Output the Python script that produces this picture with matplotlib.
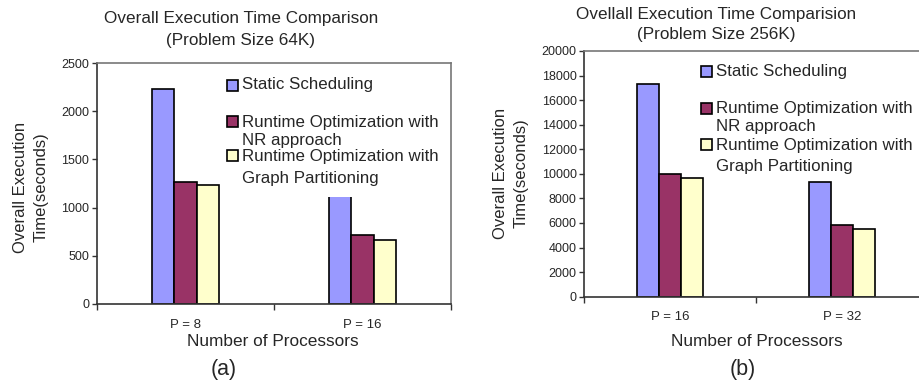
import matplotlib
matplotlib.use("Agg")
import matplotlib.pyplot as plt
from matplotlib.patches import Rectangle
import numpy as np

plt.rcParams['font.family'] = ['Liberation Sans', 'DejaVu Sans']

W, H = 919, 387

series = ["Static Scheduling", "Runtime Optimization with\nNR approach",
          "Runtime Optimization with\nGraph Partitioning"]
colors = ["#9999FF", "#993366", "#FFFFCC"]

cats_a = ["P = 8", "P = 16"]
static_a = [2227, 1250]
nr_a = [1269, 712]
gp_a = [1231, 667]

cats_b = ["P = 16", "P = 32"]
static_b = [17300, 9360]
nr_b = [9990, 5840]
gp_b = [9640, 5540]

yticks_a = [0, 500, 1000, 1500, 2000, 2500]
yticks_b = list(range(0, 20001, 2000))

TXT = "#262626"

fig = plt.figure(figsize=(W / 100, H / 100), dpi=100)


def fx(px):
    return px / W


def fy(py):
    return 1 - py / H


def make_axes(rect, cats, data, yticks, labelpad):
    ax = fig.add_axes(rect)
    x = np.arange(len(cats))
    bw = 0.127
    for i, vals in enumerate(data):
        ax.bar(x + (i - 1) * bw, vals, bw, color=colors[i], edgecolor="black",
               linewidth=1.2, zorder=2)
    ax.set_xlim(-0.5, len(cats) - 0.5)
    ax.set_ylim(0, yticks[-1])
    ax.set_yticks(yticks)
    ax.set_yticklabels([str(t) for t in yticks], fontsize=9, color=TXT)
    ax.set_xticks([-0.5, 0.5, 1.5])
    ax.set_xticks(x, minor=True)
    ax.set_xticklabels([])
    ax.set_xticklabels(cats, minor=True, fontsize=9.5, color=TXT)
    ax.tick_params(axis="x", which="major", length=4, width=1, color="#333333")
    ax.tick_params(axis="x", which="minor", length=0, pad=labelpad)
    ax.tick_params(axis="y", length=3.8, width=1, color="#333333", pad=1.5)
    for s in ["left", "bottom"]:
        ax.spines[s].set_color("#333333")
        ax.spines[s].set_linewidth(1.2)
    for s in ["top", "right"]:
        ax.spines[s].set_color("#777777")
        ax.spines[s].set_linewidth(1.2)
    return ax


ax_a = make_axes([fx(96.7), fy(304), (451 - 96.7) / W, (304 - 63) / H],
                 cats_a, [static_a, nr_a, gp_a], yticks_a, 11)
ax_b = make_axes([fx(584), fy(296.7), 344 / W, (296.7 - 51) / H],
                 cats_b, [static_b, nr_b, gp_b], yticks_b, 10.5)

# white area behind left legend (covers part of a bar, as in the original)
fig.patches.append(Rectangle((fx(222), fy(196.7)), fx(449) - fx(222),
                             fy(70) - fy(196.7), transform=fig.transFigure,
                             facecolor="white", edgecolor="none", zorder=1))


def legend(px, line_ys, fs):
    for i, ys in enumerate(line_ys):
        sq = 11
        fig.patches.append(Rectangle((fx(px), fy(ys[0] + sq / 2)), sq / W, sq / H,
                                     transform=fig.transFigure,
                                     facecolor=colors[i], edgecolor="black",
                                     linewidth=1.2, zorder=2))
        for line, y in zip(series[i].split("\n"), ys):
            fig.text(fx(px + 15), fy(y), line, fontsize=fs, color=TXT,
                     ha="left", va="center", zorder=3)


legend(227, [[85], [122, 140], [156, 178]], 12.2)
legend(701, [[71.7], [108, 127], [145, 166.7]], 12.2)

# titles
TS = 12.3
fig.text(fx(241), fy(18), "Overall Execution Time Comparison", fontsize=TS,
         color=TXT, ha="center", va="center")
fig.text(fx(241), fy(40), "(Problem Size 64K)", fontsize=TS,
         color=TXT, ha="center", va="center")
fig.text(fx(716), fy(15), "Ovellall Execution Time Comparision", fontsize=TS,
         color=TXT, ha="center", va="center")
fig.text(fx(716), fy(35), "(Problem Size 256K)", fontsize=TS,
         color=TXT, ha="center", va="center")

# y labels
fig.text(fx(30.5), fy(187), "Overall Execution\nTime(seconds)", fontsize=12,
         color=TXT, ha="center", va="center", rotation=90, linespacing=1.45)
fig.text(fx(510.5), fy(173), "Overall Execution\nTime(seconds)", fontsize=12,
         color=TXT, ha="center", va="center", rotation=90, linespacing=1.45)

# x labels
fig.text(fx(273), fy(342), "Number of Processors", fontsize=12.4, color=TXT,
         ha="center", va="center")
fig.text(fx(757), fy(342), "Number of Processors", fontsize=12.4, color=TXT,
         ha="center", va="center")

fig.text(fx(224), fy(370), "(a)", fontsize=15.5, color=TXT, ha="center", va="center")
fig.text(fx(743), fy(370), "(b)", fontsize=15.5, color=TXT, ha="center", va="center")

fig.savefig("out.png", dpi=100)
